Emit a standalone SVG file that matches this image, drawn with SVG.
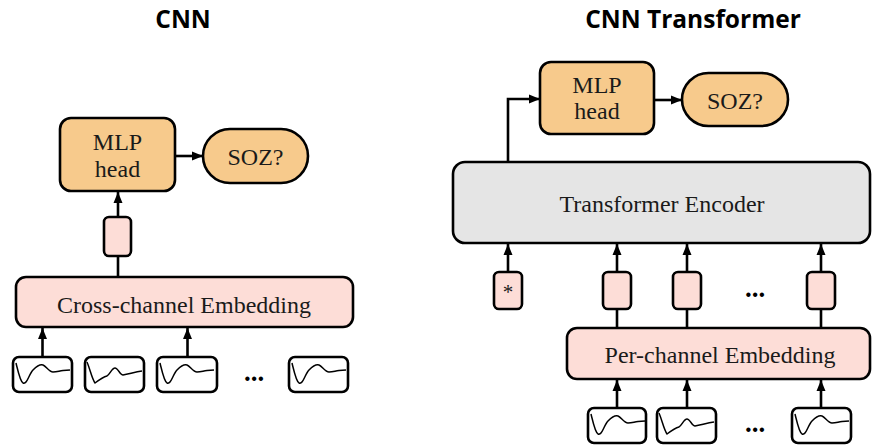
<svg xmlns="http://www.w3.org/2000/svg" width="872" height="445" viewBox="0 0 872 445">
<style>
.title{font-family:"Open Sans","Liberation Sans",sans-serif;font-weight:bold;font-size:24.5px;fill:#000;text-anchor:middle}
.lbl{font-family:"Liberation Serif","Times New Roman",serif;font-size:24px;fill:#1a1a1a;text-anchor:middle}
.dots{font-family:"Liberation Serif","Times New Roman",serif;font-weight:bold;font-size:27px;fill:#000;text-anchor:middle}
.orange{fill:#F7CA8C;stroke:#000;stroke-width:2.6}
.pink{fill:#FDDDD7;stroke:#000;stroke-width:2.6}
.gray{fill:#E5E5E5;stroke:#000;stroke-width:2.6}
.sig{fill:#fff;stroke:#000;stroke-width:2.6}
.wave{fill:none;stroke:#000;stroke-width:1.5;stroke-linejoin:round}
.conn{fill:none;stroke:#000;stroke-width:2.6}
</style>
<defs>
<marker id="ah" markerUnits="userSpaceOnUse" markerWidth="12" markerHeight="12" viewBox="0 0 12 12" refX="11" refY="6" orient="auto">
<path d="M0,1.5 L11,6 L0,10.5 Z" fill="#000"/>
</marker>
<path id="waveA" class="wave" d="M3,6 C5,14 7,24 10,26 C14,28 16,17 20,13 C24,9 27,7 30,8 C33,9 36,15 40,15 C44,15 46,14 50,13.5 L57,13"/>
<path id="waveB" class="wave" d="M2,5 C5,12 7,22 10,26 C14,23 18,20 22,19 C25,17 27,11 30,11 C33,11 35,18 38,18 C44,17 50,15 57,14"/>
</defs>

<text class="title" x="183" y="28">CNN</text>
<text class="title" x="693" y="28">CNN Transformer</text>

<g id="connectors">
<line class="conn" x1="118" y1="217" x2="118" y2="192" marker-end="url(#ah)"/>
<line class="conn" x1="118" y1="277" x2="118" y2="256"/>
<line class="conn" x1="175" y1="156" x2="203" y2="156" marker-end="url(#ah)"/>
<line class="conn" x1="42.5" y1="357" x2="42.5" y2="328" marker-end="url(#ah)"/>
<line class="conn" x1="187.5" y1="357" x2="187.5" y2="328" marker-end="url(#ah)"/>

<path class="conn" d="M508,162 V99 H540" marker-end="url(#ah)"/>
<line class="conn" x1="654" y1="100" x2="682" y2="100" marker-end="url(#ah)"/>
<line class="conn" x1="508" y1="272" x2="508" y2="244" marker-end="url(#ah)"/>
<line class="conn" x1="617" y1="272" x2="617" y2="244" marker-end="url(#ah)"/>
<line class="conn" x1="687" y1="272" x2="687" y2="244" marker-end="url(#ah)"/>
<line class="conn" x1="821" y1="272" x2="821" y2="244" marker-end="url(#ah)"/>
<line class="conn" x1="617" y1="328" x2="617" y2="309"/>
<line class="conn" x1="687" y1="328" x2="687" y2="309"/>
<line class="conn" x1="821" y1="328" x2="821" y2="309"/>
<line class="conn" x1="617" y1="408" x2="617" y2="380" marker-end="url(#ah)"/>
<line class="conn" x1="687" y1="408" x2="687" y2="380" marker-end="url(#ah)"/>
<line class="conn" x1="821" y1="408" x2="821" y2="380" marker-end="url(#ah)"/>
</g>

<!-- CNN -->
<g id="cnn-mlp">
<rect class="orange" x="60" y="118" width="115" height="73" rx="11"/>
<text class="lbl" x="117.5" y="150">MLP</text>
<text class="lbl" x="117.5" y="177">head</text>
</g>
<g id="cnn-soz">
<rect class="orange" x="203" y="129" width="105" height="54" rx="27"/>
<text class="lbl" x="255.5" y="165">SOZ?</text>
</g>
<g id="cnn-token">
<rect class="pink" x="104" y="217" width="27" height="39" rx="5"/>
</g>
<g id="cnn-embed">
<rect class="pink" x="16" y="277" width="337" height="50" rx="10"/>
<text class="lbl" x="184" y="313">Cross-channel Embedding</text>
</g>
<g id="cnn-sig1"><rect class="sig" x="13" y="357" width="59" height="35" rx="6"/><use href="#waveA" transform="translate(13,357)"/></g>
<g id="cnn-sig2"><rect class="sig" x="85" y="357" width="59" height="35" rx="6"/><use href="#waveB" transform="translate(85,357)"/></g>
<g id="cnn-sig3"><rect class="sig" x="157" y="357" width="60" height="35" rx="6"/><use href="#waveA" transform="translate(157,357)"/></g>
<text class="dots" x="254" y="381">...</text>
<g id="cnn-sig4"><rect class="sig" x="289" y="357" width="59" height="35" rx="6"/><use href="#waveA" transform="translate(289,357)"/></g>

<!-- CNN Transformer -->
<g id="tr-mlp">
<rect class="orange" x="540" y="62" width="114" height="72" rx="11"/>
<text class="lbl" x="597" y="93">MLP</text>
<text class="lbl" x="597" y="119">head</text>
</g>
<g id="tr-soz">
<rect class="orange" x="682" y="73" width="106" height="53" rx="26.5"/>
<text class="lbl" x="735" y="109">SOZ?</text>
</g>
<g id="tr-encoder">
<rect class="gray" x="453" y="162" width="417" height="81" rx="12"/>
<text class="lbl" x="662" y="212">Transformer Encoder</text>
</g>
<g id="tr-cls">
<rect class="pink" x="494" y="272" width="28" height="37" rx="5"/>
<text class="lbl" x="508" y="299" style="font-size:21px">*</text>
</g>
<g id="tr-tok1"><rect class="pink" x="603" y="272" width="28" height="37" rx="5"/></g>
<g id="tr-tok2"><rect class="pink" x="673" y="272" width="28" height="37" rx="5"/></g>
<text class="dots" x="755" y="297">...</text>
<g id="tr-tok3"><rect class="pink" x="807" y="272" width="28" height="37" rx="5"/></g>
<g id="tr-embed">
<rect class="pink" x="567" y="328" width="303" height="51" rx="10"/>
<text class="lbl" x="720" y="363">Per-channel Embedding</text>
</g>
<g id="tr-sig1"><rect class="sig" x="588" y="408" width="58" height="35" rx="6"/><use href="#waveA" transform="translate(588,408)"/></g>
<g id="tr-sig2"><rect class="sig" x="657" y="408" width="59" height="35" rx="6"/><use href="#waveB" transform="translate(657,408)"/></g>
<text class="dots" x="755" y="432">...</text>
<g id="tr-sig3"><rect class="sig" x="792" y="408" width="59" height="35" rx="6"/><use href="#waveA" transform="translate(792,408)"/></g>
</svg>
